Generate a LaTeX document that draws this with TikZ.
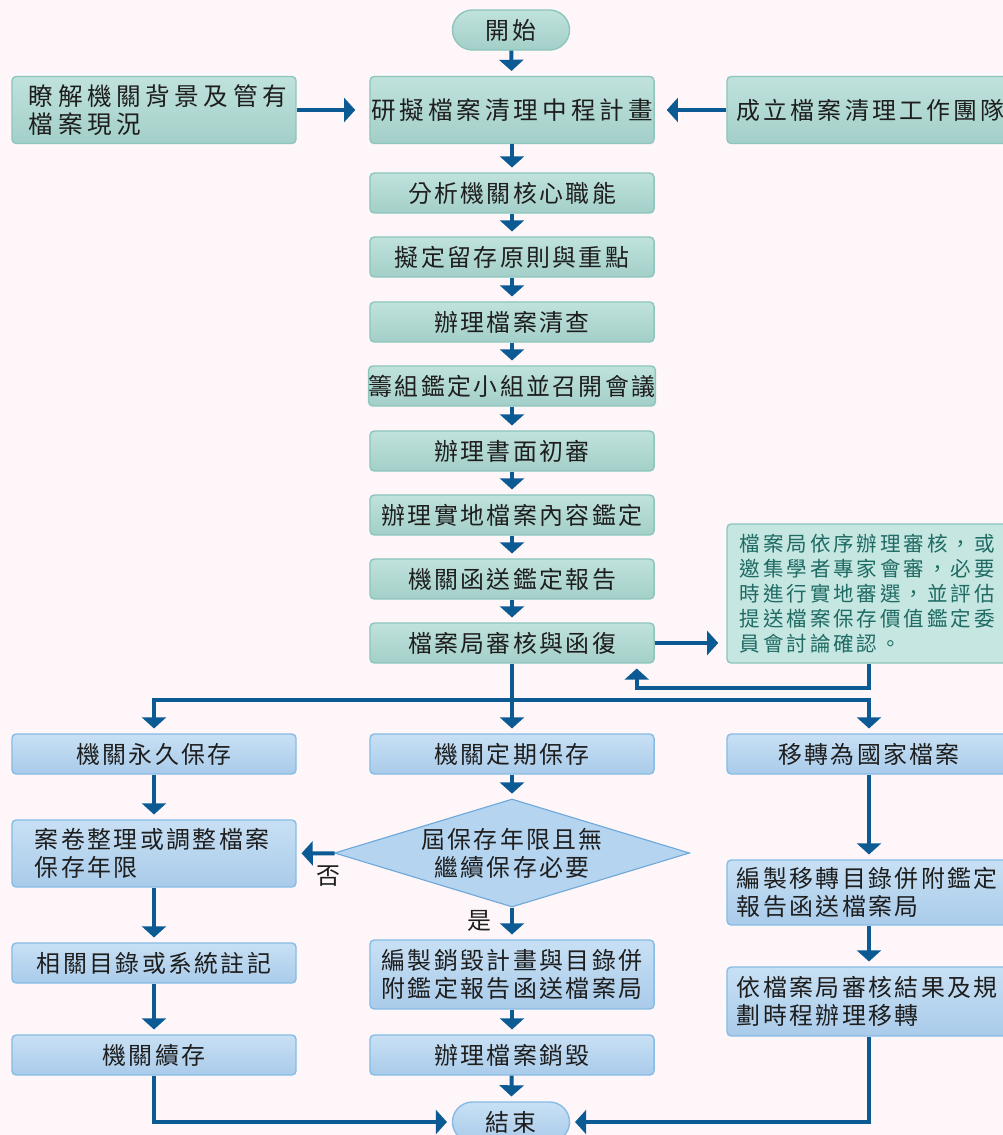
\documentclass[tikz,border=0pt]{standalone}
\usepackage{fontspec}
\usepackage{xcolor}
\usepackage{tikz}
\usetikzlibrary{arrows.meta,positioning,shapes.geometric}
\setmainfont{Noto Sans CJK TC}[LetterSpace=10]
\newfontfamily\fcplanfont{Noto Sans CJK TC}[LetterSpace=16]
\newfontfamily\fcwidefont{Noto Sans CJK TC}[LetterSpace=18.5]
\newfontfamily\fcteamfont{Noto Sans CJK TC}[LetterSpace=13]
\newfontfamily\fcnotefont{Noto Sans CJK TC}[LetterSpace=14]
\newcommand\fcmain{\fontsize{17}{20}\selectfont}
\newcommand\fcplan{\fcplanfont\fontsize{17.5}{20}\selectfont}
\newcommand\fcwide{\fcwidefont\fontsize{17.5}{20}\selectfont}
\newcommand\fcteam{\fcteamfont\fontsize{17}{20}\selectfont}
\newcommand\fcnote{\fcnotefont\fontsize{14.6}{17.8}\selectfont}
\definecolor{fcPaper}{HTML}{FEF6F9}
\definecolor{fcInk}{HTML}{1E1E1E}
\definecolor{fcNoteInk}{HTML}{1F6B63}
\definecolor{fcArrow}{HTML}{0B5A94}
\definecolor{fcTealTop}{HTML}{C0E2DD}
\definecolor{fcTealBot}{HTML}{A3CFC8}
\definecolor{fcTealLine}{HTML}{8CC6BD}
\definecolor{fcNoteFill}{HTML}{C6E6E2}
\definecolor{fcBlueTop}{HTML}{C8E0F4}
\definecolor{fcBlueBot}{HTML}{A9CBEA}
\definecolor{fcBlueLine}{HTML}{86BCE5}
\definecolor{fcDiamond}{HTML}{B4D4F0}
\definecolor{fcDiamondLine}{HTML}{6FA9D9}
\tikzset{
  fc chart/.style={font=\fcmain, text=fcInk, x=0.025cm, y=-0.025cm},
  fc teal/.style={draw=fcTealLine, top color=fcTealTop, bottom color=fcTealBot,
    line width=1pt, rounded corners=3pt, minimum width=7.1cm, minimum height=1cm,
    inner sep=0pt, align=center},
  fc blue/.style={fc teal, draw=fcBlueLine, top color=fcBlueTop, bottom color=fcBlueBot},
  fc pill/.style={fc teal, rounded corners=0.5cm, minimum width=2.925cm},
  fc note/.style={draw=fcTealLine, fill=fcNoteFill, line width=1pt, rounded corners=3pt,
    font=\fcnote, text=fcNoteInk, align=left, inner xsep=0.325cm, text width=6.45cm,
    minimum height=3.475cm},
  fc decide/.style={diamond, draw=fcDiamondLine, fill=fcDiamond, line width=0.8pt,
    aspect=3.3, inner sep=0pt, minimum width=8.875cm, minimum height=2.7cm, align=center},
  fc arrow/.style={-{Triangle[width=6mm,length=2.8mm]}, draw=fcArrow, line width=1mm,
    shorten >=1.2mm},
  fc line/.style={draw=fcArrow, line width=1mm},
  fc label/.style={inner sep=0pt}
}
\begin{document}
\begin{tikzpicture}[fc chart]
\fill[fcPaper] (0,0) rectangle (1003,1135);
\useasboundingbox (0,0) rectangle (1003,1135);
\clip (0,0) rectangle (1003,1135);
% top row
\node[fc pill] (start) at (511,30) {開始};
\node[fc teal, font=\fcplan, minimum height=1.675cm] (plan) at (512,110) {研擬檔案清理中程計畫};
\node[fc teal, font=\fcwide, minimum height=1.675cm, align=left,
  inner xsep=0.425cm, text width=6.25cm] (background) at (154,110) {瞭解機關背景及管有\\檔案現況};
\node[fc teal, font=\fcteam, minimum height=1.675cm, align=left,
  inner xsep=0.25cm, text width=6.6cm] (team) at (869,110) {成立檔案清理工作團隊};
% main column
\node[fc teal] (core) at (512,193) {分析機關核心職能};
\node[fc teal] (rules) at (512,257) {擬定留存原則與重點};
\node[fc teal] (survey) at (512,322) {辦理檔案清查};
\node[fc teal] (panel) at (512,386) {籌組鑑定小組並召開會議};
\node[fc teal] (paper) at (512,451) {辦理書面初審};
\node[fc teal] (site) at (512,515) {辦理實地檔案內容鑑定};
\node[fc teal] (report) at (512,579) {機關函送鑑定報告};
\node[fc teal] (review) at (512,643) {檔案局審核與函復};
\node[fc note] (note) at (869,593.5) {檔案局依序辦理審核，或\\邀集學者專家會審，必要\\時進行實地審選，並評估\\提送檔案保存價值鑑定委\\員會討論確認。};
% three branches
\node[fc blue] (perm) at (154,754) {機關永久保存};
\node[fc blue] (period) at (512,754) {機關定期保存};
\node[fc blue] (transfer) at (869,754) {移轉為國家檔案};
\node[fc blue, minimum height=1.675cm, align=left, inner xsep=0.575cm,
  text width=5.95cm] (adjust) at (154,853.5) {案卷整理或調整檔案\\保存年限};
\node[fc blue] (mark) at (154,963) {相關目錄或系統註記};
\node[fc blue] (keep) at (154,1055) {機關續存};
\node[fc decide] (expire) at (512,853) {屆保存年限且無\\繼續保存必要};
\node[fc blue, minimum height=1.725cm] (destroyplan) at (512,974.5) {編製銷毀計畫與目錄併\\附鑑定報告函送檔案局};
\node[fc blue] (destroy) at (512,1055) {辦理檔案銷毀};
\node[fc blue, minimum height=1.625cm, align=left, inner xsep=0.25cm,
  text width=6.6cm] (list) at (869,892.5) {編製移轉目錄併附鑑定\\報告函送檔案局};
\node[fc blue, minimum height=1.725cm, align=left, inner xsep=0.25cm,
  text width=6.6cm] (move) at (869,1001.5) {依檔案局審核結果及規\\劃時程辦理移轉};
\node[fc pill, draw=fcBlueLine, top color=fcBlueTop, bottom color=fcBlueBot] (finish) at (511,1122) {結束};
\node[fc label] (no) at (328,876) {否};
\node[fc label] (yes) at (479,921) {是};
\coordinate (fork) at (512,700);
% connectors
\draw[fc arrow] (start) -- (plan);
\draw[fc arrow, shorten >=0.35cm] (background) -- (plan);
\draw[fc arrow, shorten >=0.3cm] (team) -- (plan);
\foreach \a/\b in {plan/core,core/rules,rules/survey,survey/panel,panel/paper,
  paper/site,site/report,report/review}
  \draw[fc arrow] (\a) -- (\b);
\draw[fc arrow, shorten >=0.2cm] (review.east) -- (review.east -| note.west);
\draw[fc arrow] (note.south) -- ++(0,24) -| ([xshift=-0.45cm]review.south east);
\draw[fc line] (review) -- (fork);
\draw[fc arrow] (fork) -| (perm);
\draw[fc arrow] (fork) -- (period);
\draw[fc arrow] (fork) -| (transfer);
\foreach \a/\b in {perm/adjust,adjust/mark,mark/keep,period/expire,expire/destroyplan,
  destroyplan/destroy,destroy/finish,transfer/list,list/move}
  \draw[fc arrow] (\a) -- (\b);
\draw[fc arrow] (expire) -- (adjust);
\draw[fc arrow] (keep) |- (finish);
\draw[fc arrow] (move) |- (finish);
\end{tikzpicture}
\end{document}
